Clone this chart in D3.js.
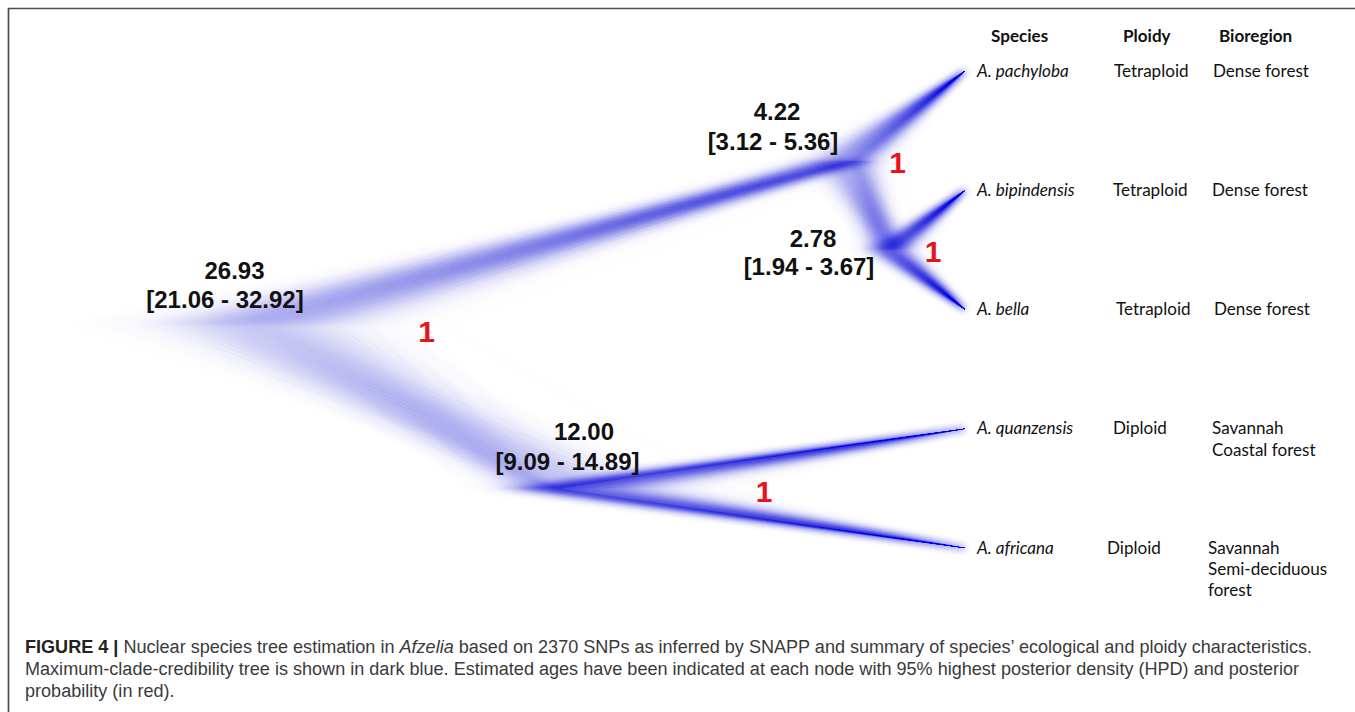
<!DOCTYPE html>
<html><head><meta charset="utf-8">
<script src="https://cdn.jsdelivr.net/npm/d3@7"></script>
<style>body{margin:0;background:#fff;}svg{display:block;}</style>
</head><body>
<svg id="chart" width="1355" height="712"></svg>
<script>
// ---------------- data ----------------
const tipNames = ["A. pachyloba","A. bipindensis","A. bella","A. quanzensis","A. africana"];
const ploidy = ["Tetraploid","Tetraploid","Tetraploid","Diploid","Diploid"];
const bioregion = [["Dense forest"],["Dense forest"],["Dense forest"],["Savannah","Coastal forest"],["Savannah","Semi-deciduous","forest"]];
const columnHeaders = ["Species","Ploidy","Bioregion"];
const nodeIds = ["root","n1","n2","n3"];
const nodeChildren = [["n1","n3"],["A. pachyloba","n2"],["A. bipindensis","A. bella"],["A. quanzensis","A. africana"]];
const nodeAge = [26.93, 4.22, 2.78, 12.00];
const nodeHpdLow = [21.06, 3.12, 1.94, 9.09];
const nodeHpdHigh = [32.92, 5.36, 3.67, 14.89];
const nodePosterior = [1, 1, 1, 1];
const captionLines = [
  [["FIGURE 4 | ","b"],["Nuclear species tree estimation in ",""],["Afzelia","i"],[" based on 2370 SNPs as inferred by SNAPP and summary of species\u2019 ecological and ploidy characteristics.",""]],
  [["Maximum-clade-credibility tree is shown in dark blue. Estimated ages have been indicated at each node with 95% highest posterior density (HPD) and posterior",""]],
  [["probability (in red).",""]]
];

// ---------------- layout config ----------------
const W = 1355, H = 712;
const svg = d3.select("#chart");
const tipX0 = 965;
// time axis (Myr -> px), piecewise as in the original drawing
const ageKnots = [0, ...nodeAge.slice().sort((a,b)=>a-b), 35];
const x = d3.scaleLinear().domain(ageKnots).range([tipX0, 890, 850, 560, 260, 100]);
const yTip = d3.scalePoint().domain(tipNames).range([71, 548]);
// label offsets relative to node (line1 dx, line2 dx, line1 dy, line2 dy)
const ageLabelOff = [[-25.5,-35,-53.5,-24.5],[-73,-77,-49,-19.5],[-77,-81,-11.5,16.5],[24,7.5,-56.5,-26.5]];
const ppOff = [[166.5,6.5],[47.5,2],[43,1],[204,2.5]];
const ploidyX = [1114,1113,1116,1113,1107];
const bioX = [1213,1212,1214,1212,1208];
const headerX = [991,1123,1219];
const speciesX = 977;

// ---------------- hierarchy ----------------
const nodeIndex = new Map(nodeIds.map((id,i)=>[id,i]));
const strides = [1, 127, 263, 181];
function build(id){
  if(nodeIndex.has(id)){
    const i = nodeIndex.get(id);
    return {id, idx:i, internal:true, age:nodeAge[i], lo:nodeHpdLow[i], hi:nodeHpdHigh[i],
            pp:nodePosterior[i], stride:strides[i], children:nodeChildren[i].map(build)};
  }
  return {id, internal:false, age:0};
}
const root = d3.hierarchy(build("root"));
root.eachAfter(d=>{
  if(d.children) d.y = d3.mean(d.children, c=>c.y);
  else d.y = yTip(d.data.id);
  d.x = x(d.data.age);
});

function probit(p){
  const a=[-3.969683028665376e+01,2.209460984245205e+02,-2.759285104469687e+02,1.383577518672690e+02,-3.066479806614716e+01,2.506628277459239e+00];
  const b=[-5.447609879822406e+01,1.615858368580409e+02,-1.556989798598866e+02,6.680131188771972e+01,-1.328068155288572e+01];
  const c=[-7.784894002430293e-03,-3.223964580411365e-01,-2.400758277161838e+00,-2.549732539343734e+00,4.374664141464968e+00,2.938163982698783e+00];
  const d=[7.784695709041462e-03,3.224671290700398e-01,2.445134137142996e+00,3.754408661907416e+00];
  const pl=0.02425, ph=1-pl; let q,r;
  if(p<pl){q=Math.sqrt(-2*Math.log(p));return (((((c[0]*q+c[1])*q+c[2])*q+c[3])*q+c[4])*q+c[5])/((((d[0]*q+d[1])*q+d[2])*q+d[3])*q+1);}
  if(p<=ph){q=p-0.5;r=q*q;return (((((a[0]*r+a[1])*r+a[2])*r+a[3])*r+a[4])*r+a[5])*q/(((((b[0]*r+b[1])*r+b[2])*r+b[3])*r+b[4])*r+1);}
  q=Math.sqrt(-2*Math.log(1-p));return -(((((c[0]*q+c[1])*q+c[2])*q+c[3])*q+c[4])*q+c[5])/((((d[0]*q+d[1])*q+d[2])*q+d[3])*q+1);
}
const M = 401; // posterior trees drawn (quantile grid of each node's HPD)
function sampleAge(node, i){
  const dd = node.data;
  if(!dd.internal) return 0;
  const k = (i*dd.stride) % M;
  const z = probit((k+0.5)/M);
  const sd = z<0 ? (dd.age-dd.lo)/1.96 : (dd.hi-dd.age)/1.96;
  return dd.age + z*sd;
}
const links = root.links();
const segs = [];
for(let i=0;i<M;i++){
  links.forEach(l=>{
    segs.push({x1:x(sampleAge(l.source,i)), y1:l.source.y, x2:x(sampleAge(l.target,i)), y2:l.target.y});
  });
}

// ---------------- drawing ----------------
const defs = svg.append("defs");
defs.append("filter").attr("id","blur").attr("x","-10%").attr("y","-10%").attr("width","120%").attr("height","120%")
  .append("feGaussianBlur").attr("stdDeviation",3.8);

const treeBlur = svg.append("g").attr("filter","url(#blur)");
treeBlur.selectAll("line").data(segs).join("line")
  .attr("x1",d=>d.x1).attr("y1",d=>d.y1).attr("x2",d=>d.x2).attr("y2",d=>d.y2)
  .attr("stroke","#1a1ae8").attr("stroke-width",1.9).attr("stroke-opacity",0.022);
const treeSharp = svg.append("g");
treeSharp.selectAll("line").data(segs).join("line")
  .attr("x1",d=>d.x1).attr("y1",d=>d.y1).attr("x2",d=>d.x2).attr("y2",d=>d.y2)
  .attr("stroke","#1515e0").attr("stroke-width",1.1).attr("stroke-opacity",0.006);

// frame
svg.append("path").attr("d",`M8.5,${H} V8.5 H${W}`).attr("fill","none").attr("stroke","#4d4d4d").attr("stroke-width",1.7);

// node labels
const internals = root.descendants().filter(d=>d.data.internal);
const ageFs = 24;
const ageG = svg.append("g").attr("font-family","'Liberation Sans', Arial, sans-serif").attr("font-weight","bold")
  .attr("font-size",ageFs).attr("fill","#111").attr("text-anchor","middle");
internals.forEach(d=>{
  const o = ageLabelOff[d.data.idx];
  ageG.append("text").attr("x",d.x+o[0]).attr("y",d.y+o[2]+0.358*ageFs).text(d.data.age.toFixed(2));
  ageG.append("text").attr("x",d.x+o[1]).attr("y",d.y+o[3]+0.358*ageFs).text(`[${d.data.lo.toFixed(2)} - ${d.data.hi.toFixed(2)}]`);
});
const ppFs = 30;
const ppG = svg.append("g").attr("font-family","'Liberation Sans', Arial, sans-serif").attr("font-weight","bold")
  .attr("font-size",ppFs).attr("fill","#e8141c").attr("text-anchor","middle");
internals.forEach(d=>{
  const o = ppOff[d.data.idx];
  ppG.append("text").attr("x",d.x+o[0]).attr("y",d.y+o[1]+0.358*ppFs).text(d.data.pp);
});

// table
const tFont = "Lato, 'Open Sans', sans-serif";
const probe = svg.append("text").attr("font-family",tFont).attr("font-size",20).text("Dense forest");
const tFs = 20*96/probe.node().getComputedTextLength();
probe.remove();
const tab = svg.append("g").attr("font-family",tFont).attr("font-size",tFs).attr("fill","#111");
columnHeaders.forEach((h,i)=>tab.append("text").attr("x",headerX[i]).attr("y",41.5).attr("font-weight","bold").text(h));
tipNames.forEach((n,i)=>{
  const ty = yTip(n)+5.5;
  tab.append("text").attr("x",speciesX).attr("y",ty).attr("font-style","italic").text(n);
  tab.append("text").attr("x",ploidyX[i]).attr("y",ty).text(ploidy[i]);
  bioregion[i].forEach((b,j)=>tab.append("text").attr("x",bioX[i]).attr("y",ty+j*21.3).text(b));
});

// caption
const cFont = "'Liberation Sans', Arial, sans-serif";
const cap = svg.append("g").attr("font-family",cFont).attr("fill","#3a3a3a");
const lines = captionLines.map((parts,li)=>{
  const t = cap.append("text").attr("x",25).attr("y",652.5+li*22).attr("font-size",16);
  parts.forEach(p=>{
    const s = t.append("tspan").text(p[0]);
    if(p[1]==="b") s.attr("font-weight","bold").attr("fill","#222");
    if(p[1]==="i") s.attr("font-style","italic");
  });
  return t;
});
const capW = lines[0].node().getComputedTextLength();
const cFs = 16*1288/capW;
lines.forEach(t=>t.attr("font-size",cFs));
</script>
</body></html>
